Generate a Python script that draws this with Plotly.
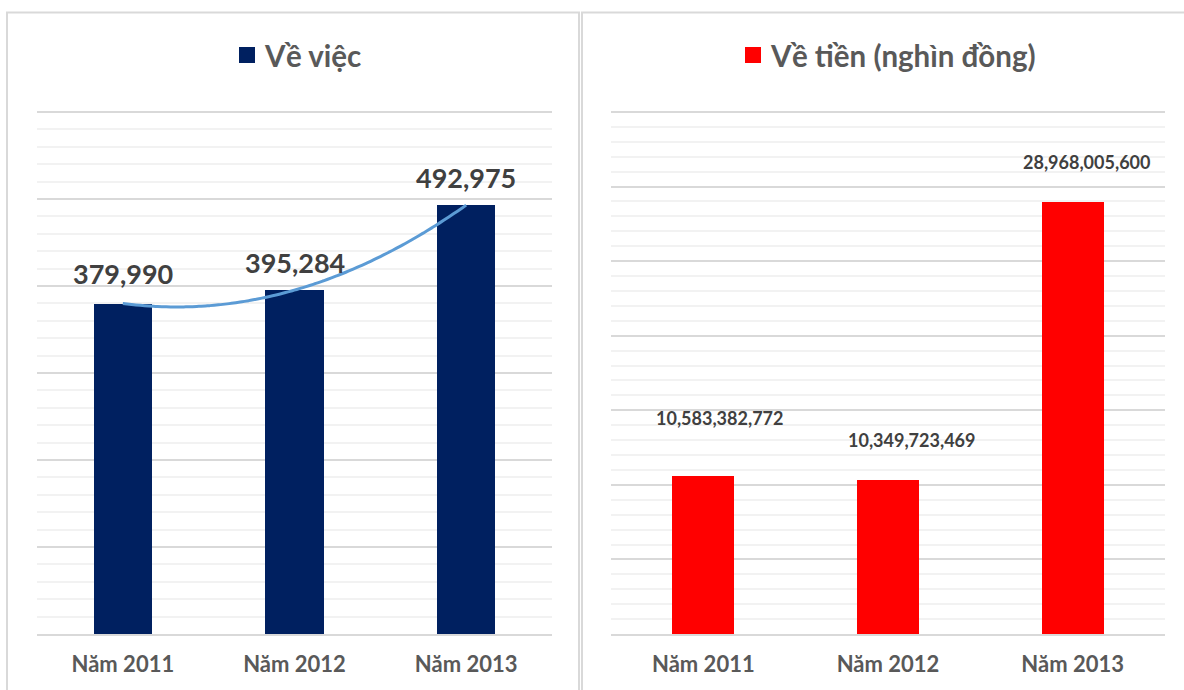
import numpy as np
import plotly.graph_objects as go

# ---- data ----
categories = ["Năm 2011", "Năm 2012", "Năm 2013"]
cases = [379990, 395284, 492975]
money = [10583382772, 10349723469, 28968005600]
title_left = "Về việc"
title_right = "Về tiền (nghìn đồng)"

# ---- style ----
W, H = 1184, 690
NAVY = "#002060"
RED = "#FF0000"
TREND = "#5B9BD5"
MAJOR = "#d9d9d9"
MINOR = "#f2f2f2"
TXT = "#595959"
LBL = "#404040"
FONT = "Lato"

def px(x):
    return x / W

def py(y):
    return 1 - y / H

# plot area: base line at y=634 px, top gridline at y=112 px; range padded 1% so
# the top gridline is drawn inside the plotting area
BASE, TOP, PAD = 634, 112, 1.01
dom_top = BASE - (BASE - TOP) * PAD

xpos = list(range(len(categories)))

fig = go.Figure()

fig.add_trace(go.Bar(x=xpos, y=cases, marker=dict(color=NAVY, line=dict(width=0)),
                     width=0.34, xaxis="x", yaxis="y", showlegend=False, hoverinfo="y"))

# polynomial (order 2) trend line, like the spreadsheet's trendline
coef = np.polyfit(xpos, cases, 2)
xt = np.linspace(xpos[0], xpos[-1], 80)
fig.add_trace(go.Scatter(x=xt, y=np.polyval(coef, xt), mode="lines",
                         line=dict(color=TREND, width=3, shape="spline"),
                         xaxis="x", yaxis="y", showlegend=False, hoverinfo="skip"))

fig.add_trace(go.Bar(x=xpos, y=money, marker=dict(color=RED, line=dict(width=0)),
                     width=0.336, xaxis="x2", yaxis="y2", showlegend=False, hoverinfo="y"))

axis_x = dict(range=[-0.5, 2.5], tickvals=xpos, ticktext=categories, showgrid=False,
              zeroline=False, showline=True, linecolor=MAJOR, linewidth=2, ticks="",
              tickfont=dict(family=FONT, size=22, color=TXT, weight="bold"),
              ticklabelstandoff=10, fixedrange=True)

fig.update_layout(
    width=W, height=H, margin=dict(l=0, r=0, t=0, b=0),
    paper_bgcolor="white", plot_bgcolor="white",
    bargap=0,
    xaxis=dict(axis_x, domain=[px(37), px(552)], anchor="y"),
    xaxis2=dict(axis_x, domain=[px(611), px(1165)], anchor="y2"),
    yaxis=dict(domain=[py(BASE), py(dom_top)], range=[0, 600000 * PAD], dtick=100000,
               showticklabels=False, zeroline=False, gridcolor=MAJOR, gridwidth=2,
               minor=dict(dtick=20000, showgrid=True, gridcolor=MINOR, gridwidth=2),
               anchor="x", fixedrange=True),
    yaxis2=dict(domain=[py(BASE), py(dom_top)], range=[0, 35e9 * PAD], dtick=5e9,
                showticklabels=False, zeroline=False, gridcolor=MAJOR, gridwidth=2,
                minor=dict(dtick=1e9, showgrid=True, gridcolor=MINOR, gridwidth=2),
                anchor="x2", fixedrange=True),
)

# panel borders
fig.add_shape(type="rect", xref="paper", yref="paper", x0=px(7), x1=px(579), y0=-0.1, y1=py(12.5),
              line=dict(color=MAJOR, width=2), fillcolor="rgba(0,0,0,0)", layer="below")
fig.add_shape(type="rect", xref="paper", yref="paper", x0=px(582), x1=1.1, y0=-0.1, y1=py(12.5),
              line=dict(color=MAJOR, width=2), fillcolor="rgba(0,0,0,0)", layer="below")

# titles with colour keys
fig.add_shape(type="rect", xref="paper", yref="paper", x0=px(239), x1=px(255), y0=py(63), y1=py(47),
              fillcolor=NAVY, line=dict(width=0))
fig.add_annotation(xref="paper", yref="paper", x=px(262), y=py(55), text=title_left, showarrow=False,
                   xanchor="left", yanchor="middle",
                   font=dict(family=FONT, size=29.5, color=TXT, weight="bold"))
fig.add_shape(type="rect", xref="paper", yref="paper", x0=px(745), x1=px(761), y0=py(63), y1=py(47),
              fillcolor=RED, line=dict(width=0))
fig.add_annotation(xref="paper", yref="paper", x=px(768), y=py(55), text=title_right, showarrow=False,
                   xanchor="left", yanchor="middle",
                   font=dict(family=FONT, size=29.5, color=TXT, weight="bold"))

# data labels
left_yshift = [30, 28, 28]
for i, v in enumerate(cases):
    fig.add_annotation(xref="x", yref="y", x=xpos[i], y=v, text=f"{v:,}", showarrow=False,
                       yanchor="middle", yshift=left_yshift[i],
                       font=dict(family=FONT, size=27, color=LBL, weight="bold"))

right_xshift = [16, 23, 14]
right_yshift = [58, 40, 40]
for i, v in enumerate(money):
    fig.add_annotation(xref="x2", yref="y2", x=xpos[i], y=v, text=f"{v:,}", showarrow=False,
                       yanchor="middle", xshift=right_xshift[i], yshift=right_yshift[i],
                       font=dict(family=FONT, size=18, color=LBL, weight="bold"))

fig.write_html("out.html")
